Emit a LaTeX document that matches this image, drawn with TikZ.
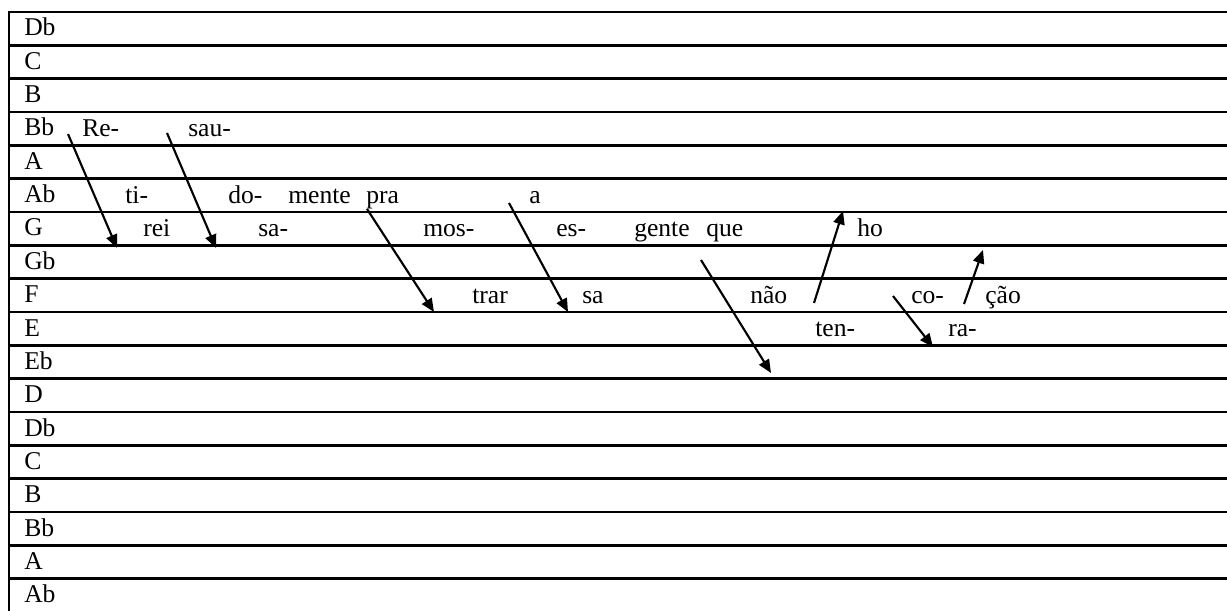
\documentclass[tikz,border=0pt]{standalone}
\usepackage{fontspec}
\setmainfont{Liberation Serif}
\usetikzlibrary{arrows.meta}
\begin{document}
\begin{tikzpicture}[x=0.75pt,y=-0.75pt,
  rule/.style={line width=2.1pt},
  note/.style={anchor=base west,inner sep=0pt,font=\fontsize{19.2}{22}\selectfont},
  move/.style={line width=1.6pt,-{Triangle[length=10pt,width=8.5pt]}}]
\useasboundingbox (0,0) rectangle (1227,610);
% staff of pitch rows
\draw[rule] (9,12) -- (9,620);
\foreach \i in {0,...,18}
  \draw[rule] (8,{12+33.333*\i}) -- (1240,{12+33.333*\i});
\foreach \p [count=\i from 0] in {Db,C,B,Bb,A,Ab,G,Gb,F,E,Eb,D,Db,C,B,Bb,A,Ab}
  \node[note] (row\i) at (24,{36+33.333*\i}) {\p};
% syllables: row Bb
\node[note] (s1) at (82,136) {Re-};
\node[note] (s2) at (188,136) {sau-};
% row Ab
\node[note] (s3) at (125,203) {ti-};
\node[note] (s4) at (228,203) {do-};
\node[note] (s5) at (288,203) {mente};
\node[note] (s6) at (366,203) {pra};
\node[note] (s7) at (529,203) {a};
% row G
\node[note] (s8) at (143,236) {rei};
\node[note] (s9) at (258,236) {sa-};
\node[note] (s10) at (423,236) {mos-};
\node[note] (s11) at (556,236) {es-};
\node[note] (s12) at (634,236) {gente};
\node[note] (s13) at (706,236) {que};
\node[note] (s14) at (857,236) {ho};
% row F
\node[note] (s15) at (472,303) {trar};
\node[note] (s16) at (582,303) {sa};
\node[note] (s17) at (750,303) {não};
\node[note] (s18) at (911,303) {co-};
\node[note] (s19) at (985,303) {ção};
% row E
\node[note] (s20) at (815,336) {ten-};
\node[note] (s21) at (948,336) {ra-};
% melodic motion
\coordinate (a1) at (68,134);  \coordinate (b1) at (117,248);
\coordinate (a2) at (167,133); \coordinate (b2) at (216,248);
\coordinate (a3) at (367,209); \coordinate (b3) at (434,312);
\coordinate (a4) at (509,203); \coordinate (b4) at (568,312);
\coordinate (a5) at (701,260); \coordinate (b5) at (771,373);
\coordinate (a6) at (814,303); \coordinate (b6) at (843,211);
\coordinate (a7) at (893,296); \coordinate (b7) at (933,347);
\coordinate (a8) at (964,304); \coordinate (b8) at (983,250);
\foreach \k in {1,...,8}
  \draw[move] (a\k) -- (b\k);
\end{tikzpicture}
\end{document}
